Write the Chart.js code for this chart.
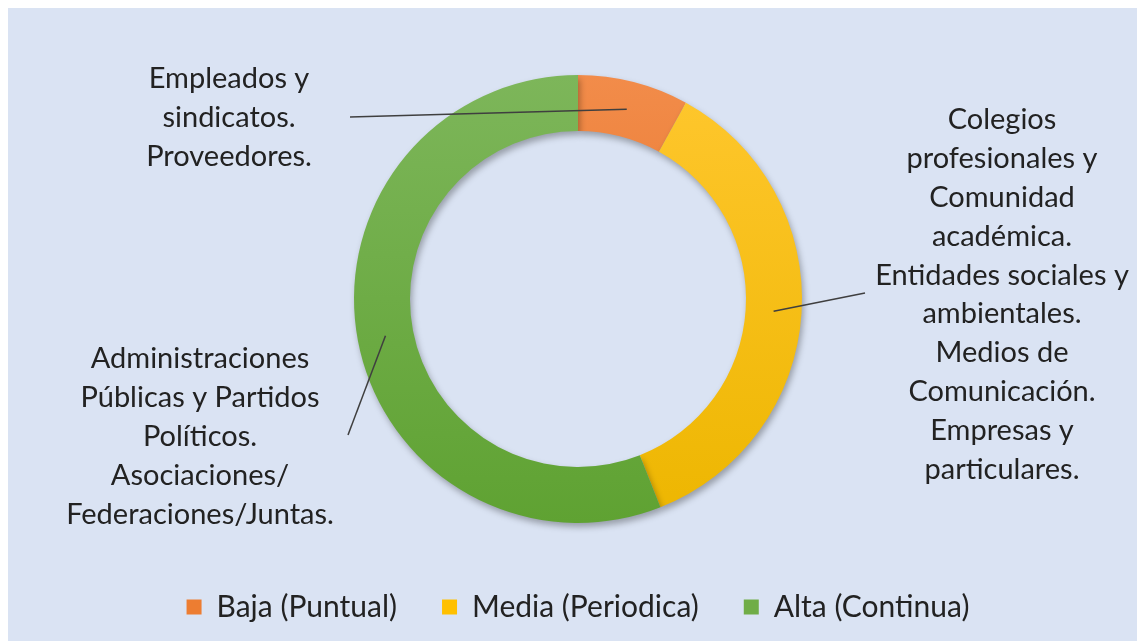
<!DOCTYPE html>
<html>
<head>
<meta charset="utf-8">
<script src="https://cdn.jsdelivr.net/npm/chart.js@4.4.0/dist/chart.umd.min.js"></script>
<style>
  html, body { margin: 0; padding: 0; background: #ffffff; }
  #wrap { position: absolute; left: 8px; top: 8px; width: 1129px; height: 633px; background: #DAE3F3; }
</style>
</head>
<body>
<div id="wrap"><canvas id="chart1" width="1129" height="633"></canvas></div>
<script>
// Intensidad de la relación con los grupos de interés
const categories = ["Baja (Puntual)", "Media (Periodica)", "Alta (Continua)"];
const values = [2, 9, 14];
const colors = ["#ED7D31", "#FFC000", "#70AD47"];
const colorsTop = ["#F28C4A", "#FFC72E", "#7DB65A"];
const colorsBottom = ["#E2691A", "#EDB600", "#5FA232"];

// text blocks attached to each slice
const calloutTexts = [
    ["Empleados y", "sindicatos.", "Proveedores."],
    ["Colegios", "profesionales y", "Comunidad", "académica.", "Entidades sociales y", "ambientales.", "Medios de", "Comunicación.", "Empresas y", "particulares."],
    ["Administraciones", "Públicas y Partidos", "Políticos.", "Asociaciones/", "Federaciones/Juntas."]
];

const FONT = "Lato, 'Open Sans', sans-serif";
const TEXT_COLOR = "#222222";

// where each block sits and where its leader line starts (canvas px)
const calloutLayout = [
    { x: 221, y: 71, lineStart: [342, 109] },
    { x: 994, y: 112, lineStart: [857, 285] },
    { x: 192, y: 351, lineStart: [340, 427] }
];

function sliceFill(ctx) {
    const chart = ctx.chart;
    const i = ctx.dataIndex;
    const area = chart.chartArea;
    if (!area) return colors[i];
    const g = chart.ctx.createLinearGradient(0, area.top, 0, area.bottom);
    g.addColorStop(0, colorsTop[i]);
    g.addColorStop(1, colorsBottom[i]);
    return g;
}

const shadowPlugin = {
    id: "ringShadow",
    beforeDatasetsDraw(chart) {
        const c = chart.ctx;
        c.save();
        c.shadowColor = "rgba(0,0,0,0.3)";
        c.shadowBlur = 6;
        c.shadowOffsetX = 2;
        c.shadowOffsetY = 4;
    },
    afterDatasetsDraw(chart) {
        chart.ctx.restore();
    }
};

const calloutPlugin = {
    id: "callouts",
    afterDatasetsDraw(chart) {
        const c = chart.ctx;
        const arcs = chart.getDatasetMeta(0).data;
        c.save();
        c.strokeStyle = "#3f3f3f";
        c.lineWidth = 1.5;
        arcs.forEach((arc, i) => {
            const p = arc.tooltipPosition();
            const s = calloutLayout[i].lineStart;
            c.beginPath();
            c.moveTo(s[0], s[1]);
            c.lineTo(p.x, p.y);
            c.stroke();
        });
        c.fillStyle = TEXT_COLOR;
        c.font = "29px " + FONT;
        c.textAlign = "center";
        c.textBaseline = "middle";
        calloutTexts.forEach((lines, i) => {
            const L = calloutLayout[i];
            lines.forEach((t, k) => c.fillText(t, L.x, L.y + k * 38.8));
        });
        c.restore();
    }
};

const ctx = document.getElementById("chart1").getContext("2d");
new Chart(ctx, {
    type: "doughnut",
    data: {
        labels: categories,
        datasets: [{
            data: values,
            backgroundColor: sliceFill,
            borderWidth: 0,
            hoverOffset: 0
        }]
    },
    options: {
        responsive: false,
        animation: false,
        cutout: "75%",
        layout: { padding: { top: 67, bottom: 9, left: 11, right: 0 } },
        plugins: {
            tooltip: { enabled: false },
            legend: {
                position: "bottom",
                title: {
                    display: true,
                    text: " ",
                    color: "rgba(0,0,0,0)",
                    font: { size: 10 },
                    padding: { top: 12, bottom: 0 }
                },
                labels: {
                    font: { family: FONT, size: 30 },
                    color: TEXT_COLOR,
                    boxWidth: 15,
                    boxHeight: 15,
                    padding: 45,
                    generateLabels: (chart) => categories.map((name, i) => ({
                        text: name,
                        fillStyle: colors[i],
                        strokeStyle: colors[i],
                        fontColor: TEXT_COLOR,
                        lineWidth: 0,
                        index: i
                    }))
                }
            }
        }
    },
    plugins: [shadowPlugin, calloutPlugin]
});
</script>
</body>
</html>
